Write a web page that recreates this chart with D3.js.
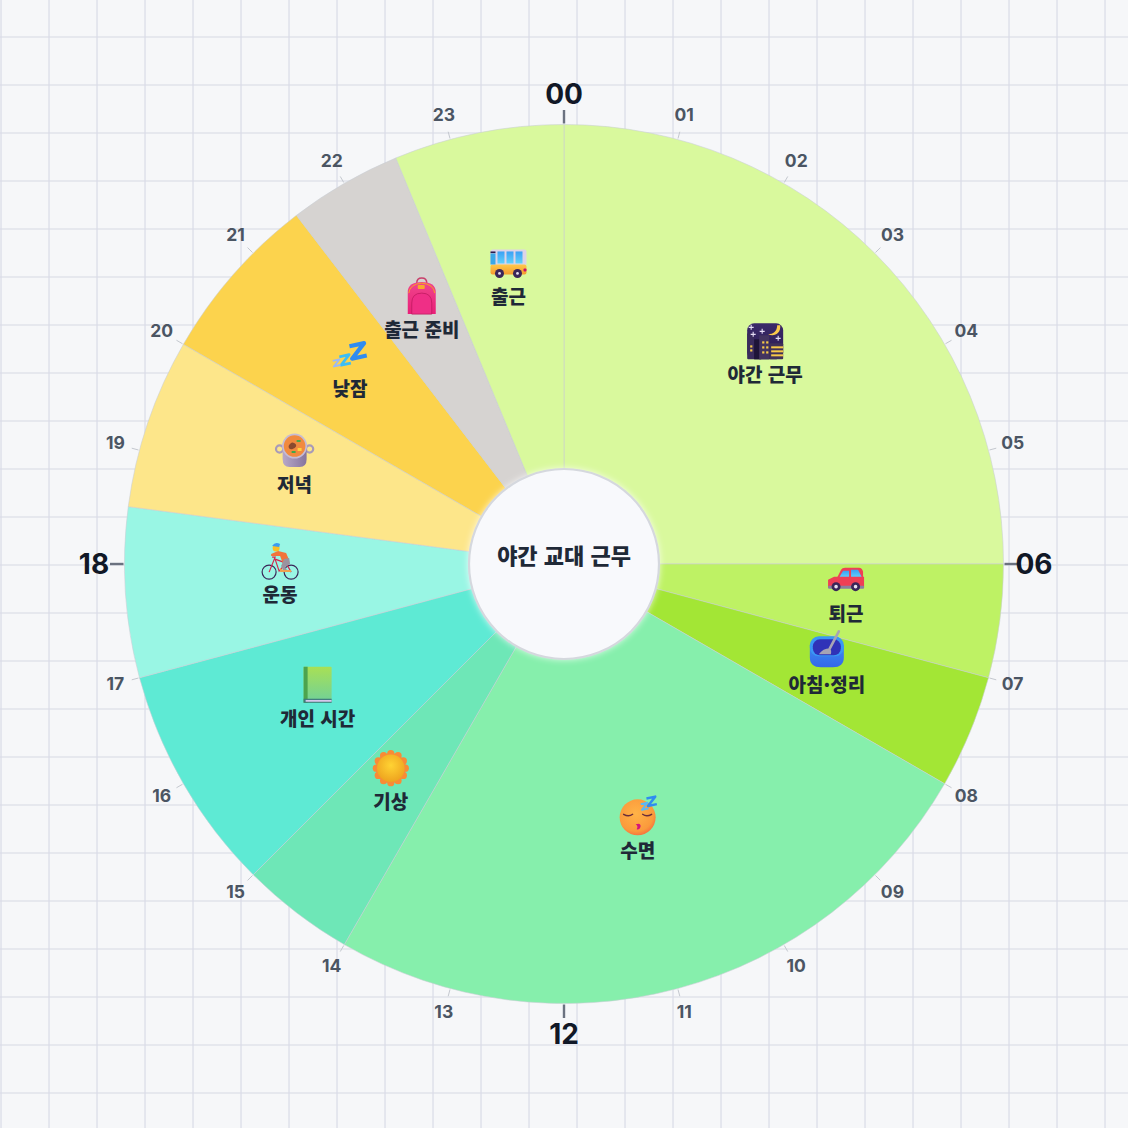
<!DOCTYPE html>
<html lang="ko"><head><meta charset="utf-8">
<script src="https://cdn.jsdelivr.net/npm/d3@7/dist/d3.min.js"></script>
<style>html,body{margin:0;padding:0;background:#f6f7f9}svg{display:block}</style>
</head><body><svg id="c" width="1128" height="1128"></svg>
<script>
// Schedule (hours of day; 24-hour clock)
const activities = ["야간 근무","퇴근","아침·정리","수면","기상","개인 시간","운동","저녁","낮잠","출근 준비","출근"];
const startHours = [0,6,7,8,14,15,17,18.5,20,21.5,22.5];
const endHours   = [6,7,8,14,15,17,18.5,20,21.5,22.5,24];
const sliceColors = ["#d9f99d","#bef264","#a3e635","#86efac","#6ee7b7","#5eead4","#99f6e4","#fde68a","#fcd34d","#d6d3d1","#d9f99d"];
const iconNames = ["night","car","bowl","sleep","sun","book","bike","pot","zzz","bag","bus"];
const hourTicks = d3.range(0,24);
const centerTitle = "야간 교대 근무";

const W=1128, cx=564, cy=564, R=439.5, r0=95, labelR=284.5;
const svg=d3.select("#c");
const krFont="'Noto Sans CJK KR','Noto Sans',sans-serif";
const numFont="Inter,'Noto Sans',sans-serif";

const defs=svg.append("defs");
function grad(id,stops,x2=0,y2=1){const g=defs.append("linearGradient").attr("id",id).attr("x1",0).attr("y1",0).attr("x2",x2).attr("y2",y2);
  stops.forEach((c,i)=>g.append("stop").attr("offset",i/(stops.length-1)).attr("stop-color",c));}
grad("gBook",["#a8e055","#6fd19a"]);grad("gBus",["#ffc94a","#f59a2e"]);grad("gWin",["#3aa0f5","#62d2fa"]);
grad("gBag",["#f0458c","#e91f78"]);grad("gBowl",["#3d8bf2","#3468e8"]);grad("gNight",["#3a2a6a","#2a1a4e"]);
grad("gZ",["#2f8cf0","#4cc8f8"]);grad("gPot",["#b8a8c8","#86749e"],1,0);
const rf=defs.append("radialGradient").attr("id","gFace").attr("cx",.45).attr("cy",.4).attr("r",.65);
rf.append("stop").attr("offset",0).attr("stop-color","#ffb347");rf.append("stop").attr("offset",.75).attr("stop-color","#fb9a3c");rf.append("stop").attr("offset",1).attr("stop-color","#f5673f");
const rs=defs.append("radialGradient").attr("id","gSun").attr("cx",.5).attr("cy",.4).attr("r",.6);
rs.append("stop").attr("offset",0).attr("stop-color","#ffd333");rs.append("stop").attr("offset",1).attr("stop-color","#eea31f");
const f=defs.append("filter").attr("id","glow").attr("x","-20%").attr("y","-20%").attr("width","140%").attr("height","140%");
f.append("feDropShadow").attr("dx",0).attr("dy",0).attr("stdDeviation",3).attr("flood-color","#ffffff").attr("flood-opacity",.7);

// Background grid
const gridG=svg.append("g").attr("stroke","#d9dbe6").attr("stroke-opacity",.75).attr("stroke-width",1.6);
d3.range(1,W+1,48).forEach(x=>gridG.append("line").attr("x1",x).attr("x2",x).attr("y1",0).attr("y2",W));
d3.range(37,W+1,48).forEach(y=>gridG.append("line").attr("y1",y).attr("y2",y).attr("x1",0).attr("x2",W));

const angle=d3.scaleLinear().domain([0,24]).range([0,2*Math.PI]);
const root=svg.append("g").attr("transform",`translate(${cx},${cy})`);
const slices=activities.map((name,i)=>({name,start:startHours[i],end:endHours[i],color:sliceColors[i],icon:iconNames[i]}));

const arc=d3.arc().innerRadius(r0).outerRadius(R);
root.append("g").selectAll("path").data(slices).join("path")
  .attr("d",d=>arc({startAngle:angle(d.start),endAngle:angle(d.end)}))
  .attr("fill",d=>d.color).attr("stroke","#c9ced6").attr("stroke-opacity",.55).attr("stroke-width",1);

// Ticks
const polar=(h,rad)=>{const a=angle(h)-Math.PI/2;return [rad*Math.cos(a),rad*Math.sin(a)];};
const tickG=root.append("g");
hourTicks.forEach(h=>{
  const major=h%6===0;
  const [x1,y1]=polar(h,R+1);const [x2,y2]=polar(h,R+(major?14.5:8));
  tickG.append("line").attr("x1",x1).attr("y1",y1).attr("x2",x2).attr("y2",y2)
    .attr("stroke",major?"#6b7280":"#c4c8cf").attr("stroke-width",major?2.4:1);
  const [lx,ly]=polar(h,major?470:464.5);
  tickG.append("text").attr("x",lx).attr("y",ly-(major?0.5:1)).attr("text-anchor","middle").attr("dominant-baseline","central")
    .attr("font-family",numFont).attr("font-weight",700).attr("font-size",major?28:17.5)
    .attr("fill",major?"#111827":"#4b5563").text(String(h).padStart(2,"0"));
});

// Hub
root.append("circle").attr("r",r0).attr("fill","#f8f9fc").attr("stroke","#d5d8de").attr("stroke-width",2.2).attr("filter","url(#glow)");
root.append("text").attr("y",-10).attr("text-anchor","middle").attr("dominant-baseline","central")
  .attr("font-family",krFont).attr("font-weight",900).attr("font-size",22).attr("fill","#1f2937").text(centerTitle);

// Icons: small illustrative glyphs in a box centred on the origin (about 36px)
const P=(g,d,fill,extra={})=>{const e=g.append("path").attr("d",d).attr("fill",fill);Object.entries(extra).forEach(([k,v])=>e.attr(k,v));return e;};
const RR=(g,x,y,w,h,rx,fill)=>g.append("rect").attr("x",x).attr("y",y).attr("width",w).attr("height",h).attr("rx",rx).attr("fill",fill);
const C=(g,x,y,r,fill,extra={})=>{const e=g.append("circle").attr("cx",x).attr("cy",y).attr("r",r).attr("fill",fill);Object.entries(extra).forEach(([k,v])=>e.attr(k,v));return e;};
const ZZ=(g,x,y,s,stroke)=>P(g,`M${-s} ${-s*.85}H${s}L${-s} ${s*.85}H${s}`,"none",{stroke,"stroke-width":s*.55,"stroke-linejoin":"round",transform:`translate(${x},${y}) rotate(-12)`});
const icons={
 night(g){RR(g,-18,-18,36,36,7,"url(#gNight)");
   RR(g,-18,-8,7,26,1,"#3a2c5c");RR(g,-11,-2,7,20,0,"#1e1438");RR(g,-6,-6,10,24,0,"#43345f");RR(g,4,2,14,16,1,"#3f3158");
   [[-15,4],[-15,8],[-3,0],[1,0],[-3,5],[1,5],[-3,10],[1,10]].forEach(([x,y])=>RR(g,x,y,2.2,2.2,0,"#f7c948"));
   [[6,5],[6,9],[6,13]].forEach(([x,y])=>RR(g,x,y,12,2,0,"#f7c948"));
   P(g,"M12-16C12-10 8-7 3-7C9-4 16-8 15-16Z","#fbc94a");
   [[-14,-14],[-3,-10],[-12,-7],[13,-3]].forEach(([x,y])=>P(g,`M${x-2.5} ${y}H${x+2.5}M${x} ${y-2.5}V${y+2.5}`,"none",{stroke:"#e6def5","stroke-width":1.1}));},
 car(g){P(g,"M-9-2L-5-10Q-4-12-1-12H13Q16-12 17-8V0Z","#ef3f55");
   P(g,"M-7-2L-3-9H3V-2Z","url(#gWin)");P(g,"M5-10H12L16-2H5Z","url(#gWin)");
   P(g,"M-18 0L-12-3H18V8H-18Z","#ef3f55");RR(g,-18,6,36,3,1,"#8b7f9e");
   C(g,-10,7,4.5,"#3a2658");C(g,9.5,7,4.5,"#3a2658");C(g,-10,7,1.8,"#e8e0ee");C(g,9.5,7,1.8,"#e8e0ee");},
 bowl(g){P(g,"M-17-6V6Q-17 16-6 16H6Q17 16 17 6V-6Z","url(#gBowl)");
   RR(g,-17,-15,34,20,9,"#3a97f5");RR(g,-14,-12,28,16,7,"#2f32b8");
   P(g,"M12-20L3-3","none",{stroke:"#a7a4b4","stroke-width":2.6,"stroke-linecap":"round"});
   P(g,"M-8 3Q-4-3 3-3Q5-1 4 3Z","#a7a4b4");},
 sleep(g){C(g,0,0,18,"url(#gFace)");
   P(g,"M-14-3Q-9 0-5-3M5-3Q9 0 14-3","none",{stroke:"#6a2d3a","stroke-width":1.4,"stroke-linecap":"round"});
   P(g,"M-2 7Q3 5 3 9Q2 13-1 12Q1 9-2 7Z","#d4157a");
   ZZ(g,7,-11,3.4,"#58b8f5");ZZ(g,14,-16,4.5,"#2f8cf0");},
 sun(g){d3.range(0,12).forEach(i=>{const a=i*Math.PI/6;C(g,14.5*Math.cos(a),14.5*Math.sin(a),3.6,"#f98b36");});
   C(g,0,0,15,"#f98b36");C(g,0,0,13.8,"url(#gSun)");},
 book(g){RR(g,-14,-18,28,36,1,"url(#gBook)");RR(g,-14,-18,4,36,0,"#4ca44e");
   RR(g,-14,14,28,4,0,"#3d7a7c");RR(g,-12,15.2,26,1.8,0,"#d6c8ec");},
 bike(g){g.append("circle").attr("cx",-11).attr("cy",11).attr("r",7).attr("fill","none").attr("stroke","#3a2658").attr("stroke-width",1.2);
   g.append("circle").attr("cx",11).attr("cy",11).attr("r",7).attr("fill","none").attr("stroke","#3a2658").attr("stroke-width",1.2);
   P(g,"M-11 11L-5-4H-8M-5-2L6 2L11 11M-5-2L-1 10L6 2","none",{stroke:"#d1284e","stroke-width":1.2});
   C(g,-4,-13,3.5,"#fbbf24");P(g,"M-8-15Q-5-20 0-17L-1-14Z","#3a9cf0");
   P(g,"M-2-10L6-8L9-1L3 3L0-5L-9-5L-9-7Z","#f1743b");P(g,"M4-2L9-3L10 3L5 6L8 11H4L1 5Z","#9a939f");P(g,"M0 7L3 9H11V11H0Z","#f0a050");},
 pot(g){g.append("circle").attr("cx",-15).attr("cy",-2).attr("r",3.6).attr("fill","none").attr("stroke","#a89bb8").attr("stroke-width",2.2);
   g.append("circle").attr("cx",15).attr("cy",-2).attr("r",3.6).attr("fill","none").attr("stroke","#a89bb8").attr("stroke-width",2.2);
   P(g,"M-12-4V8Q-12 16-5 16H5Q12 16 12 8V-4Z","url(#gPot)");
   C(g,0,-5,12.5,"#c6bcd4");C(g,0,-5,10.8,"#f18a3e");
   P(g,"M-6-5Q-3-11 1-7Q3-4-2-2Q-6-1-6-5Z","#8a4a2e");RR(g,2,-11,4,2,.5,"#4aa84a");RR(g,3,-3,4,3,.5,"#ffd23f");RR(g,-3,0,4,2,.5,"#3fa84a");},
 zzz(g){ZZ(g,8,-4,7.5,"#2f8cf0");ZZ(g,-5,5,5,"#3cbef5");ZZ(g,-13.5,8,3.4,"#9ab8f8");},
 bag(g){g.append("path").attr("d","M-5-13Q-5-18 0-18Q5-18 5-13").attr("fill","none").attr("stroke","#c83f6a").attr("stroke-width",1.5);
   P(g,"M-14 18V-4Q-14-14 0-14Q14-14 14-4V18Z","url(#gBag)");
   P(g,"M-13-3Q-12-12 0-13Q12-12 13-3","none",{stroke:"#f8a024","stroke-width":1});RR(g,-4,-11,7,4,1,"#f8a82c");
   P(g,"M-10 18V7Q-10-3 0-3Q10-3 10 7V18Z","#ef2f86",{stroke:"#c01a60","stroke-width":.8});},
 bus(g){RR(g,-18,-14,36,16,2,"#ddd4e8");RR(g,-18,1,36,10,2,"url(#gBus)");
   RR(g,-18,-10,5,11,0,"#3aa8e8");RR(g,-11,-12,7,12,0,"url(#gWin)");RR(g,-2,-12,7,12,0,"url(#gWin)");RR(g,7,-12,7,12,0,"url(#gWin)");
   RR(g,-18,-12,5,1.6,0,"#2a1a4e");RR(g,15,5,3,3,1,"#c8106a");
   C(g,-9,10,4.5,"#3a2658");C(g,9,10,4.5,"#3a2658");C(g,-9,10,1.4,"#e8e0ee");C(g,9,10,1.4,"#e8e0ee");}
};

// Labels with icon above
const labelArc=d3.arc().innerRadius(labelR).outerRadius(labelR);
const lab=root.append("g").selectAll("g").data(slices).join("g").attr("transform",d=>{
  const [x,y]=labelArc.centroid({startAngle:angle(d.start),endAngle:angle(d.end)});return `translate(${x},${y})`;});
lab.append("g").attr("transform","translate(0,-21.5)").each(function(d){icons[d.icon](d3.select(this));});
lab.append("text").attr("y",11).attr("text-anchor","middle").attr("dominant-baseline","central")
  .attr("font-family",krFont).attr("font-weight",900).attr("font-size",19).attr("fill","#1f2937").text(d=>d.name);
</script></body></html>
